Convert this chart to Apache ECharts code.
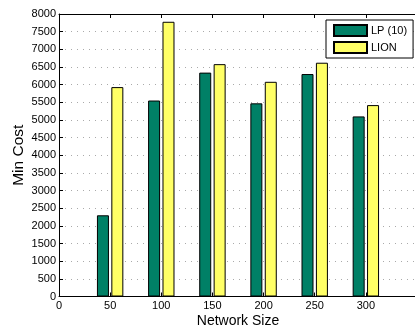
<!DOCTYPE html>
<html>
<head>
<meta charset="utf-8">
<script src="https://cdn.jsdelivr.net/npm/echarts@6/dist/echarts.min.js"></script>
<style>html,body{margin:0;padding:0;background:#fff}#c{width:415px;height:327px}</style>
</head>
<body>
<div id="c"></div>
<script>
const networkSizes = [50, 100, 150, 200, 250, 300];
const lpValues = [2300, 5550, 6340, 5470, 6300, 5100];
const lionValues = [5930, 7780, 6580, 6080, 6620, 5420];
const seriesNames = ['LP (10)', 'LION'];

const chart = echarts.init(document.getElementById('c'), null, {renderer: 'canvas'});
const font = 'Liberation Sans, Arial, Helvetica, sans-serif';
const pair = (vals) => networkSizes.map((x, i) => [x, vals[i]]);

chart.setOption({
  animation: false,
  backgroundColor: '#fff',
  grid: {left: 59, top: 14, width: 358, height: 282.5, containLabel: false, outerBoundsMode: 'none'},
  legend: {
    orient: 'vertical', left: 326, top: 20,
    itemWidth: 33, itemHeight: 11, itemGap: 4,
    padding: [4, 6, 4, 7],
    borderColor: '#000', borderWidth: 1, backgroundColor: '#fff',
    icon: 'rect',
    textStyle: {fontFamily: font, fontSize: 11, color: '#000', padding: [0, 0, 0, -1]},
    data: seriesNames
  },
  xAxis: [{
    type: 'value', min: 0, max: 350, interval: 50,
    name: 'Network Size', nameLocation: 'middle', nameGap: 18, nameMoveOverlap: false,
    nameTextStyle: {fontFamily: font, fontSize: 14, color: '#000'},
    axisLine: {onZero: false, lineStyle: {color: '#000', width: 1}},
    axisTick: {inside: true, length: 4, lineStyle: {color: '#000'}},
    axisLabel: {fontFamily: font, fontSize: 11, color: '#000', margin: 4,
      formatter: v => (v === 350 ? '' : String(v))},
    splitLine: {show: false}
  }, {
    type: 'value', min: 0, max: 350, interval: 50, position: 'top',
    axisLine: {onZero: false, lineStyle: {color: '#000', width: 1}},
    axisTick: {inside: true, length: 4, lineStyle: {color: '#000'}},
    axisLabel: {show: false}, splitLine: {show: false}
  }],
  yAxis: {
    type: 'value', min: 0, max: 8000, interval: 500,
    name: 'Min Cost', nameLocation: 'middle', nameGap: 32, nameMoveOverlap: false,
    nameTextStyle: {fontFamily: font, fontSize: 15.5, color: '#000'},
    axisLine: {show: true, onZero: false, lineStyle: {color: '#000', width: 1}},
    axisTick: {show: true, inside: true, length: 4, lineStyle: {color: '#000'}},
    axisLabel: {fontFamily: font, fontSize: 11, color: '#000', margin: 3, formatter: v => String(v)},
    splitLine: {show: true, lineStyle: {color: '#aaa', type: [1, 5], width: 1}}
  },
  series: [{
    name: seriesNames[0], type: 'bar', xAxisIndex: 0,
    data: pair(lpValues), barWidth: 12, barGap: '20%',
    itemStyle: {color: '#008066', borderColor: '#000', borderWidth: 1}
  }, {
    name: seriesNames[1], type: 'bar', xAxisIndex: 0,
    data: pair(lionValues), barWidth: 12, barGap: '20%',
    itemStyle: {color: '#ffff66', borderColor: '#000', borderWidth: 1}
  }]
});
</script>
</body>
</html>
